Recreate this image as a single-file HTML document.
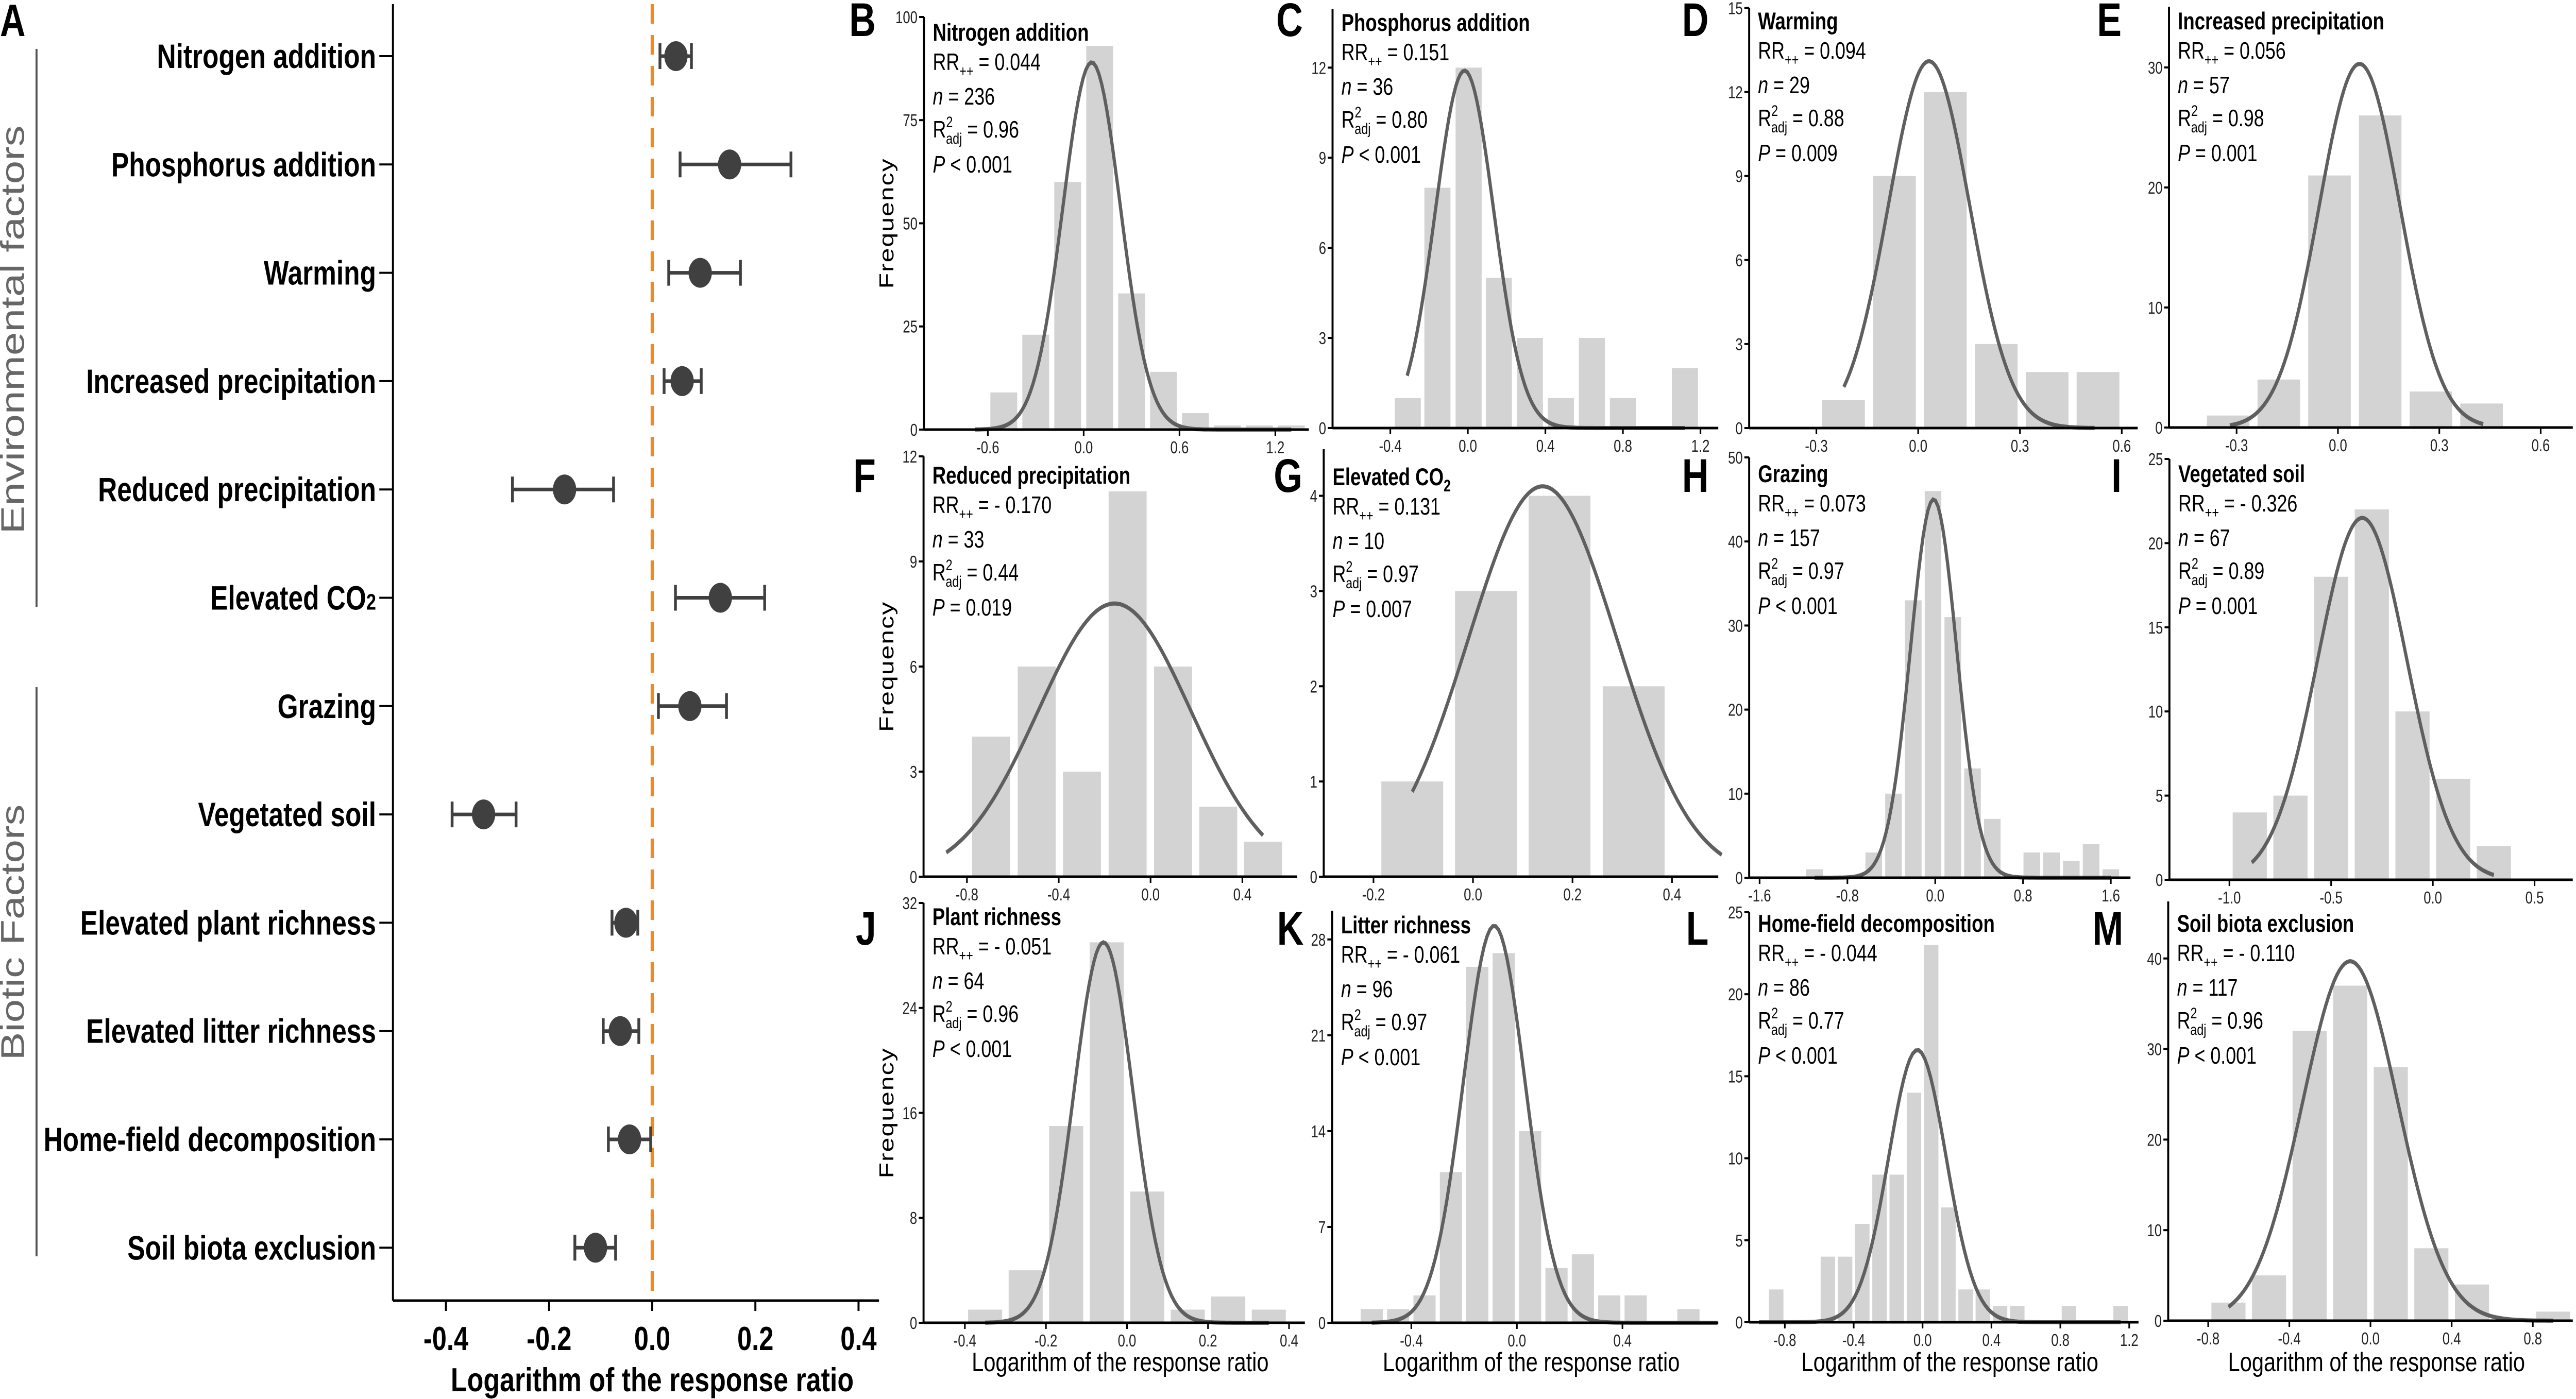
<!DOCTYPE html>
<html><head><meta charset="utf-8"><style>
html,body{margin:0;padding:0;background:#fff;width:100%;height:100%;overflow:hidden;}
svg{display:block;font-family:"Liberation Sans",Arial,sans-serif;width:100vw;height:100vh;}
</style></head><body>
<svg id="fig" viewBox="0 0 6418 2716" preserveAspectRatio="none" xmlns="http://www.w3.org/2000/svg"></svg>
<script>
// ---------- Panel A data ----------
const factorLabels = ["Nitrogen addition","Phosphorus addition","Warming","Increased precipitation","Reduced precipitation","Elevated CO2","Grazing","Vegetated soil","Elevated plant richness","Elevated litter richness","Home-field decomposition","Soil biota exclusion"];
const factorMeans = [0.046,0.150,0.093,0.058,-0.170,0.132,0.073,-0.327,-0.051,-0.062,-0.044,-0.110];
const factorLow   = [0.015,0.054,0.032,0.023,-0.271,0.045,0.012,-0.388,-0.078,-0.095,-0.085,-0.150];
const factorHigh  = [0.076,0.269,0.171,0.095,-0.075,0.218,0.144,-0.264,-0.028,-0.026,-0.003,-0.071];
const aTickVals = [-0.4,-0.2,0,0.2,0.4];
const aTickLabels = ["-0.4","-0.2","0.0","0.2","0.4"];

// ---------- Histogram data (per panel) ----------
const histTitles = ["Nitrogen addition","Phosphorus addition","Warming","Increased precipitation","Reduced precipitation","Elevated CO|2","Grazing","Vegetated soil","Plant richness","Litter richness","Home-field decomposition","Soil biota exclusion"];
const histLetters = ["B","C","D","E","F","G","H","I","J","K","L","M"];
const histRR = ["0.044","0.151","0.094","0.056","- 0.170","0.131","0.073","- 0.326","- 0.051","- 0.061","- 0.044","- 0.110"];
const histN = ["236","36","29","57","33","10","157","67","64","96","86","117"];
const histR2 = ["0.96","0.80","0.88","0.98","0.44","0.97","0.97","0.89","0.96","0.97","0.77","0.96"];
const histP = ["< 0.001","< 0.001","= 0.009","= 0.001","= 0.019","= 0.007","< 0.001","= 0.001","< 0.001","< 0.001","< 0.001","< 0.001"];
const binCenters = [
 [-0.5,-0.3,-0.1,0.1,0.3,0.5,0.7,0.9,1.1,1.3],
 [-0.31,-0.157,0.004,0.16,0.32,0.48,0.64,0.80,1.12],
 [-0.22,-0.07,0.08,0.23,0.38,0.53],
 [-0.325,-0.175,-0.025,0.125,0.275,0.425],
 [-0.695,-0.496,-0.299,-0.10,0.098,0.295,0.49],
 [-0.122,0.026,0.174,0.323],
 [-1.10,-0.56,-0.38,-0.20,-0.02,0.16,0.34,0.52,0.88,1.06,1.24,1.42,1.60],
 [-0.90,-0.70,-0.50,-0.30,-0.10,0.10,0.30],
 [-0.35,-0.25,-0.15,-0.05,0.05,0.15,0.25,0.35],
 [-0.55,-0.45,-0.35,-0.25,-0.15,-0.05,0.05,0.15,0.25,0.35,0.45,0.65],
 [-0.85,-0.55,-0.45,-0.35,-0.25,-0.15,-0.05,0.05,0.15,0.25,0.35,0.45,0.55,0.85,1.15],
 [-0.7,-0.5,-0.3,-0.1,0.1,0.3,0.5,0.9]
];
const binCounts = [
 [9,23,60,93,33,14,4,1,1,1],
 [1,8,12,5,3,1,3,1,2],
 [1,9,12,3,2,2],
 [1,4,21,26,3,2],
 [4,6,3,11,6,2,1],
 [1,3,4,2],
 [1,3,10,33,46,31,13,7,3,3,2,4,1],
 [4,5,18,22,10,6,2],
 [1,4,15,29,10,1,2,1],
 [1,1,2,11,26,27,14,4,5,2,2,1],
 [2,4,4,6,9,9,14,23,7,2,2,1,1,1,1],
 [2,5,32,37,28,8,4,1]
];
const binWidths = [0.2,0.16,0.15,0.15,0.197,0.148,0.18,0.2,0.1,0.1,0.1,0.2];
const curvePeak = [89,11.9,13.1,30.3,7.8,4.1,45,21.5,29,29,16.6,39.7];
const curveMean = [0.05,-0.017,0.032,0.064,-0.157,0.14,-0.015,-0.347,-0.058,-0.086,-0.03,-0.10];
const curveSD   = [0.18,0.151,0.12,0.12,0.333,0.15,0.21,0.22,0.073,0.117,0.167,0.235];
const curveFrom = [-0.68,-0.313,-0.219,-0.32,-0.89,-0.122,-1.1,-0.89,-0.35,-0.55,-0.95,-0.7];
const curveTo   = [1.3,1.12,0.52,0.43,0.49,0.5,1.6,0.3,0.35,0.76,1.15,0.9];
const yTicks = [[0,25,50,75,100],[0,3,6,9,12],[0,3,6,9,12,15],[0,10,20,30],[0,3,6,9,12],[0,1,2,3,4],[0,10,20,30,40,50],[0,5,10,15,20,25],[0,8,16,24,32],[0,7,14,21,28],[0,5,10,15,20,25],[0,10,20,30,40]];
const xTickVals = [[-0.6,0,0.6,1.2],[-0.4,0,0.4,0.8,1.2],[-0.3,0,0.3,0.6],[-0.3,0,0.3,0.6],[-0.8,-0.4,0,0.4],[-0.2,0,0.2,0.4],[-1.6,-0.8,0,0.8,1.6],[-1.0,-0.5,0,0.5],[-0.4,-0.2,0,0.2,0.4],[-0.4,0,0.4],[-0.8,-0.4,0,0.4,0.8,1.2],[-0.8,-0.4,0,0.4,0.8]];
const xTickLabels = [["-0.6","0.0","0.6","1.2"],["-0.4","0.0","0.4","0.8","1.2"],["-0.3","0.0","0.3","0.6"],["-0.3","0.0","0.3","0.6"],["-0.8","-0.4","0.0","0.4"],["-0.2","0.0","0.2","0.4"],["-1.6","-0.8","0.0","0.8","1.6"],["-1.0","-0.5","0.0","0.5"],["-0.4","-0.2","0.0","0.2","0.4"],["-0.4","0.0","0.4"],["-0.8","-0.4","0.0","0.4","0.8","1.2"],["-0.8","-0.4","0.0","0.4","0.8"]];
const xDomMin = [-1.0,-0.698,-0.498,-0.5,-0.989,-0.3,-1.695,-1.295,-0.502,-0.70,-1.007,-0.997];
const xDomMax = [1.41,1.292,0.647,0.695,0.639,0.493,1.779,0.688,0.439,0.763,1.254,0.997];
const yDomMax = [100,13.96,15,35.06,12,4.49,50,25,32,30.1,25,46.3];

// ---------- layout (pixels) ----------
const L = {
 left:  [2302,3320,4358,5404,2301,3298,4358,5405,2301,3319,4358,5402],
 right: [3261,4281,5326,6410,3232,4281,5308,6410,3251,4281,5328,6410],
 bottom:[834,831,831,830,1702,1702,1704,1708,2568,2568,2567,2564],
 top:   [33,17,15.5,13,886,872,888,891,1753,1768,1771,1750],
 titleY:[79,60,57,57,939,942,936,936,1796,1812,1809,1809],
 letterX:[2182,3246,4257,5286,2182,3245,4257,5286,2183,3248,4257,5290],
 letterY:[70,70,70,70,955,955,955,955,1834,1834,1834,1834]
};

const NS="http://www.w3.org/2000/svg";
const svg=document.getElementById('fig');
function mk(tag,attrs,parent){const e=document.createElementNS(NS,tag);for(const k in attrs)e.setAttribute(k,attrs[k]);(parent||svg).appendChild(e);return e;}

// ---------- Panel A ----------
const gA=mk('g',{});


const aX0=1625, aUnit=1285, aAxisX=979, aAxisBottom=2525, aRow0=109, aRowStep=210.3;
const ax=v=>aX0+v*aUnit;
const ay=i=>aRow0+i*aRowStep;
let t=mk('text',{x:0,y:70,'font-size':88,'font-weight':'bold'},gA);t.textContent='A';

let e=mk('line',{x1:aAxisX,y1:8,x2:aAxisX,y2:aAxisBottom,stroke:'#000','stroke-width':5},gA);

e=mk('line',{x1:aAxisX,y1:aAxisBottom,x2:2190,y2:aAxisBottom,stroke:'#000','stroke-width':5},gA);

aTickVals.forEach((v,i)=>{
 mk('line',{x1:ax(v),y1:aAxisBottom,x2:ax(v),y2:aAxisBottom+20,stroke:'#000','stroke-width':5},gA);
 const tt=mk('text',{x:ax(v),y:2621,'font-size':65,'font-weight':'bold','text-anchor':'middle'},gA);
 tt.textContent=aTickLabels[i];
 
 
});
t=mk('text',{x:1625,y:2701,'font-size':65,'font-weight':'bold','text-anchor':'middle',textLength:1004,lengthAdjust:'spacingAndGlyphs'},gA);
t.textContent='Logarithm of the response ratio';

e=mk('line',{x1:ax(0),y1:8,x2:ax(0),y2:aAxisBottom,stroke:'#f08a1c','stroke-width':8,'stroke-dasharray':'38 22'},gA);

e=mk('line',{x1:91,y1:95,x2:91,y2:1178,stroke:'#555','stroke-width':5},gA);

e=mk('line',{x1:91,y1:1334,x2:91,y2:2439,stroke:'#555','stroke-width':5},gA);

t=mk('text',{x:0,y:0,'font-size':82,fill:'#666','text-anchor':'middle',transform:'translate(60,640) rotate(-90)'},gA);
t.textContent='Environmental factors';

t=mk('text',{x:0,y:0,'font-size':82,fill:'#666','text-anchor':'middle',transform:'translate(60,1810) rotate(-90)'},gA);
t.textContent='Biotic Factors';

factorLabels.forEach((lab,i)=>{
 const y=ay(i);
 mk('line',{x1:945,y1:y,x2:aAxisX,y2:y,stroke:'#000','stroke-width':4},gA);
 const tx=mk('text',{x:937,y:y+23,'font-size':66,'font-weight':'bold','text-anchor':'end'},gA);
 
 
 if(lab==='Elevated CO2'){tx.textContent='Elevated CO';const s=mk('tspan',{'font-size':44},tx);s.textContent='2';}
 else tx.textContent=lab;
 const g=mk('g',{},gA);
 
 
 mk('line',{x1:ax(factorLow[i]),y1:y,x2:ax(factorHigh[i]),y2:y,stroke:'#404040','stroke-width':7},g);
 mk('line',{x1:ax(factorLow[i]),y1:y-25,x2:ax(factorLow[i]),y2:y+25,stroke:'#404040','stroke-width':7},g);
 mk('line',{x1:ax(factorHigh[i]),y1:y-25,x2:ax(factorHigh[i]),y2:y+25,stroke:'#404040','stroke-width':7},g);
 mk('circle',{cx:ax(factorMeans[i]),cy:y,r:29,fill:'#404040'},g);
});

// ---------- Histograms ----------
histTitles.forEach((title,p)=>{
 const g=mk('g',{});
 
 
 const l=L.left[p], r=L.right[p], b=L.bottom[p], tp=L.top[p];
 const sx=v=>l+(v-xDomMin[p])/(xDomMax[p]-xDomMin[p])*(r-l);
 const sy=v=>b-v/yDomMax[p]*(b-tp);
 binCenters[p].forEach((c,i)=>{
  const w=binWidths[p]*0.84;
  const bar=mk('rect',{x:sx(c-w/2),y:sy(binCounts[p][i]),width:sx(c+w/2)-sx(c-w/2),height:b-sy(binCounts[p][i]),fill:'#d3d3d3'},g);
  
  
 });
 let d='';const N=120;
 for(let k=0;k<=N;k++){const xv=curveFrom[p]+(curveTo[p]-curveFrom[p])*k/N;const yv=curvePeak[p]*Math.exp(-Math.pow(xv-curveMean[p],2)/(2*curveSD[p]*curveSD[p]));d+=(k?'L':'M')+sx(xv).toFixed(1)+' '+sy(yv).toFixed(1);}
 const cv=mk('path',{d:d,fill:'none',stroke:'#5f5f5f','stroke-width':8},g);
 
 
 let a=mk('line',{x1:l,y1:tp,x2:l,y2:b,stroke:'#000','stroke-width':5},g);
 
 a=mk('line',{x1:l,y1:b,x2:r,y2:b,stroke:'#000','stroke-width':5},g);
 
 yTicks[p].forEach(v=>{
  mk('line',{x1:l-12,y1:sy(v),x2:l,y2:sy(v),stroke:'#000','stroke-width':4},g);
  const tl=mk('text',{x:l-16,y:sy(v)+12,'font-size':33,'text-anchor':'end',fill:'#222'},g);
  tl.textContent=String(v);
  
  
 });
 xTickVals[p].forEach((v,i)=>{
  mk('line',{x1:sx(v),y1:b,x2:sx(v),y2:b+12,stroke:'#000','stroke-width':4},g);
  const tl=mk('text',{x:sx(v),y:b+46,'font-size':33,'text-anchor':'middle',fill:'#222'},g);
  tl.textContent=xTickLabels[p][i];
  
  
 });
 const lt=mk('text',{x:L.letterX[p],y:L.letterY[p],'font-size':92,'font-weight':'bold','text-anchor':'end'},g);
 lt.textContent=histLetters[p];
 
 
 const tx=l+22, ty=L.titleY[p];
 const ti=mk('text',{x:tx,y:ty,'font-size':47,'font-weight':'bold'},g);
 
 
 const parts=title.split('|');ti.textContent=parts[0];
 if(parts[1]){const s=mk('tspan',{'font-size':32,dy:12},ti);s.textContent=parts[1];}
 const rr=mk('text',{x:tx,y:ty+57,'font-size':46},g);
 
 
 rr.appendChild(document.createTextNode('RR'));
 let s=mk('tspan',{'font-size':30,dy:12},rr);s.textContent='++';
 s=mk('tspan',{dy:-12},rr);s.textContent=' = '+histRR[p];
 const nn=mk('text',{x:tx,y:ty+124,'font-size':46},g);
 
 
 s=mk('tspan',{'font-style':'italic'},nn);s.textContent='n';
 s=mk('tspan',{},nn);s.textContent=' = '+histN[p];
 const r2=mk('text',{x:tx,y:ty+188,'font-size':46},g);
 
 
 r2.appendChild(document.createTextNode('R'));
 s=mk('tspan',{'font-size':30,dy:-20},r2);s.textContent='2';
 s=mk('tspan',{'font-size':30,dx:-17,dy:32},r2);s.textContent='adj';
 s=mk('tspan',{dy:-12},r2);s.textContent=' = '+histR2[p];
 const pp=mk('text',{x:tx,y:ty+256,'font-size':46},g);
 
 
 s=mk('tspan',{'font-style':'italic'},pp);s.textContent='P';
 s=mk('tspan',{},pp);s.textContent=' '+histP[p];
 if(p%4===0){
  const fy=(b+tp)/2;
  const f=mk('text',{x:0,y:0,'font-size':50,'text-anchor':'middle','letter-spacing':2,transform:'translate(2226,'+fy+') rotate(-90)'},g);
  f.textContent='Frequency';
  
  
 }
 if(p>=8){
  const xt=mk('text',{x:(l+r)/2+15,y:2662,'font-size':52,'text-anchor':'middle',textLength:740,lengthAdjust:'spacingAndGlyphs'},g);
  xt.textContent='Logarithm of the response ratio';
  
  
 }
});
</script>
</body></html>
